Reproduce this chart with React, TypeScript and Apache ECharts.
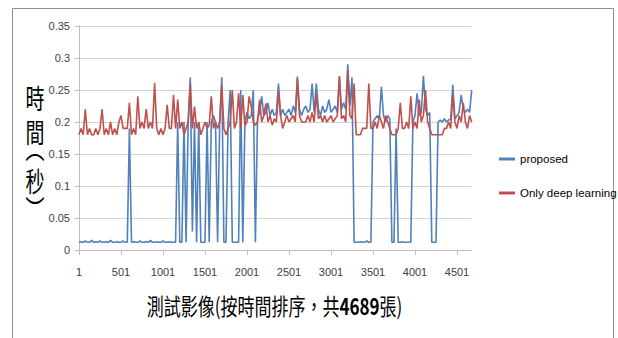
import React, { useEffect, useRef } from 'react';
import * as echarts from 'echarts';

// One sample every 25 images (image index = 1 + 25 * k)
const SAMPLE_STEP = 25;

const seriesNames = ['proposed', 'Only deep learning'];

const proposed = [
  0.012, 0.013, 0.012, 0.014, 0.012, 0.012, 0.015, 0.012, 0.013, 0.012,
  0.014, 0.012, 0.012, 0.013, 0.012, 0.015, 0.012, 0.012, 0.013, 0.012,
  0.012, 0.014, 0.012, 0.012, 0.19, 0.012, 0.013, 0.012, 0.012, 0.014,
  0.012, 0.012, 0.013, 0.012, 0.015, 0.012, 0.012, 0.013, 0.012, 0.012,
  0.014, 0.012, 0.012, 0.013, 0.012, 0.012, 0.012, 0.2, 0.012, 0.012,
  0.2, 0.012, 0.2, 0.27, 0.029, 0.2, 0.012, 0.2, 0.012, 0.012,
  0.012, 0.2, 0.012, 0.2, 0.21, 0.2, 0.012, 0.2, 0.27, 0.012,
  0.012, 0.2, 0.25, 0.012, 0.012, 0.012, 0.012, 0.25, 0.012, 0.2,
  0.215, 0.205, 0.21, 0.25, 0.012, 0.205, 0.215, 0.24, 0.21, 0.215,
  0.23, 0.21, 0.22, 0.21, 0.215, 0.26, 0.21, 0.22, 0.21, 0.215,
  0.22, 0.21, 0.225, 0.215, 0.271, 0.22, 0.21, 0.22, 0.225, 0.215,
  0.22, 0.26, 0.215, 0.26, 0.22, 0.21, 0.225, 0.215, 0.22, 0.235,
  0.215, 0.22, 0.225, 0.215, 0.27, 0.22, 0.23, 0.22, 0.29, 0.225,
  0.27, 0.012, 0.012, 0.012, 0.013, 0.012, 0.012, 0.014, 0.012, 0.012,
  0.2, 0.205, 0.21, 0.205, 0.255, 0.21, 0.2, 0.21, 0.205, 0.012,
  0.012, 0.19, 0.012, 0.012, 0.013, 0.012, 0.012, 0.012, 0.012, 0.2,
  0.21, 0.245, 0.21, 0.215, 0.272, 0.22, 0.21, 0.215, 0.012, 0.012,
  0.012, 0.2, 0.203, 0.2, 0.205, 0.2, 0.203, 0.205, 0.258, 0.205,
  0.21, 0.215, 0.242, 0.22, 0.215, 0.22, 0.215, 0.25,
];

const deepOnly = [
  0.18, 0.19, 0.18, 0.22, 0.18, 0.19, 0.18, 0.18, 0.19, 0.18,
  0.19, 0.22, 0.18, 0.19, 0.18, 0.2, 0.18, 0.19, 0.18, 0.2,
  0.21, 0.19, 0.19, 0.19, 0.23, 0.18, 0.19, 0.18, 0.24, 0.19,
  0.2, 0.19, 0.22, 0.19, 0.2, 0.19, 0.261, 0.19, 0.18, 0.19,
  0.18, 0.19, 0.227, 0.19, 0.19, 0.242, 0.19, 0.235, 0.19, 0.2,
  0.18, 0.19, 0.2, 0.26, 0.19, 0.224, 0.19, 0.2, 0.18, 0.19,
  0.2, 0.19, 0.195, 0.24, 0.19, 0.2, 0.19, 0.2, 0.258, 0.19,
  0.18, 0.19, 0.2, 0.25, 0.19, 0.2, 0.245, 0.19, 0.242, 0.195,
  0.2, 0.24, 0.224, 0.2, 0.195, 0.2, 0.235, 0.2, 0.21, 0.229,
  0.2, 0.21, 0.195, 0.205, 0.2, 0.247, 0.21, 0.19, 0.2, 0.21,
  0.2, 0.205, 0.21, 0.2, 0.268, 0.21, 0.2, 0.2, 0.2, 0.21,
  0.2, 0.215, 0.2, 0.245, 0.205, 0.21, 0.2, 0.21, 0.2, 0.205,
  0.21, 0.2, 0.205, 0.21, 0.272, 0.205, 0.21, 0.2, 0.281, 0.21,
  0.205, 0.26, 0.18, 0.18, 0.18, 0.19, 0.19, 0.19, 0.26, 0.19,
  0.19, 0.2, 0.19, 0.21, 0.2, 0.19, 0.21, 0.2, 0.19, 0.18,
  0.18, 0.18, 0.19, 0.23, 0.19, 0.19, 0.2, 0.19, 0.24, 0.19,
  0.2, 0.19, 0.235, 0.2, 0.21, 0.25, 0.2, 0.19, 0.18, 0.18,
  0.18, 0.18, 0.18, 0.18, 0.19, 0.19, 0.2, 0.19, 0.243, 0.2,
  0.19, 0.21, 0.2, 0.23, 0.2, 0.19, 0.21, 0.2,
];

const imageIndex = proposed.map((_, k) => String(1 + SAMPLE_STEP * k));

const Y_MIN = 0;
const Y_MAX = 0.35;
const Y_STEP = 0.05;
const LABEL_EVERY = 500 / SAMPLE_STEP; // label 1, 501, 1001, ...

const yTitleChars = ['時', '間', '︵', '秒', '︶'];
const xTitle = '測試影像(按時間排序，共{b|4689}張)';

const SANS = "'Liberation Sans', Arial, sans-serif";
const CJK = "'Noto Sans CJK TC', 'Noto Sans CJK SC', sans-serif";
const BLUE = '#4f81bd';
const RED = '#c0504d';

export default function App() {
  const ref = useRef<HTMLDivElement>(null);

  useEffect(() => {
    if (!ref.current) return;
    const chart = echarts.init(ref.current, undefined, { renderer: 'svg' });
    const yTitlePos = [97, 131, 147, 180, 208];
    const option: any = {
      animation: false,
      backgroundColor: '#ffffff',
      grid: {
        left: 79,
        right: 146.3,
        top: 26,
        bottom: 88,
        containLabel: false,
        outerBoundsMode: 'none',
      },
      legend: {
        orient: 'vertical',
        left: 494,
        top: 146,
        icon: 'rect',
        itemWidth: 16,
        itemHeight: 3,
        itemGap: 18,
        data: seriesNames,
        textStyle: {
          fontFamily: SANS,
          fontSize: 11.5,
          color: '#000000',
          lineHeight: 16,
        },
      },
      xAxis: {
        type: 'category',
        data: imageIndex,
        boundaryGap: false,
        axisLine: { show: true, lineStyle: { color: '#bfbfbf', width: 1 } },
        axisTick: { show: true, interval: LABEL_EVERY - 1, length: 5, lineStyle: { color: '#bfbfbf' } },
        axisLabel: {
          interval: LABEL_EVERY - 1,
          margin: 16,
          fontFamily: SANS,
          fontSize: 11,
          color: '#404040',
        },
        splitLine: { show: false },
      },
      yAxis: {
        type: 'value',
        min: Y_MIN,
        max: Y_MAX,
        interval: Y_STEP,
        axisLine: { show: true, lineStyle: { color: '#bfbfbf', width: 1 } },
        axisTick: { show: true, length: 4, lineStyle: { color: '#bfbfbf' } },
        axisLabel: {
          margin: 9,
          fontFamily: SANS,
          fontSize: 11,
          color: '#404040',
        },
        splitLine: { show: true, lineStyle: { color: '#d4d4d4', width: 1 } },
      },
      series: [
        {
          name: seriesNames[0],
          type: 'line',
          data: proposed,
          symbol: 'none',
          showSymbol: false,
          lineStyle: { color: BLUE, width: 1.6 },
          itemStyle: { color: BLUE },
          z: 2,
        },
        {
          name: seriesNames[1],
          type: 'line',
          data: deepOnly,
          symbol: 'none',
          showSymbol: false,
          lineStyle: { color: RED, width: 1.6 },
          itemStyle: { color: RED },
          z: 3,
        },
      ],
      graphic: [
        {
          type: 'rect',
          silent: true,
          shape: { x: 12.5, y: 8.5, width: 601, height: 345 },
          style: { fill: 'none', stroke: '#8e8e8e', lineWidth: 1 },
        },
        ...yTitleChars.map((ch, i) => ({
          type: 'text',
          silent: true,
          x: 35,
          y: yTitlePos[i],
          scaleY: 1.45,
          style: {
            text: ch,
            fontSize: 19,
            fontFamily: CJK,
            fill: '#000000',
            align: 'center',
            verticalAlign: 'middle',
          },
        })),
        {
          type: 'text',
          silent: true,
          x: 274.5,
          y: 305,
          scaleY: 1.35,
          style: {
            text: xTitle,
            fontSize: 17,
            fontFamily: CJK,
            fill: '#000000',
            align: 'center',
            verticalAlign: 'middle',
            rich: {
              b: { fontSize: 17, fontFamily: CJK, fontWeight: 'bold', fill: '#000000' },
            },
          },
        },
      ],
    };
    chart.setOption(option);
    return () => chart.dispose();
  }, []);

  return (
    <div
      ref={ref}
      style={{ position: 'absolute', left: 0, top: 0, width: 618, height: 338, background: '#ffffff' }}
    />
  );
}
